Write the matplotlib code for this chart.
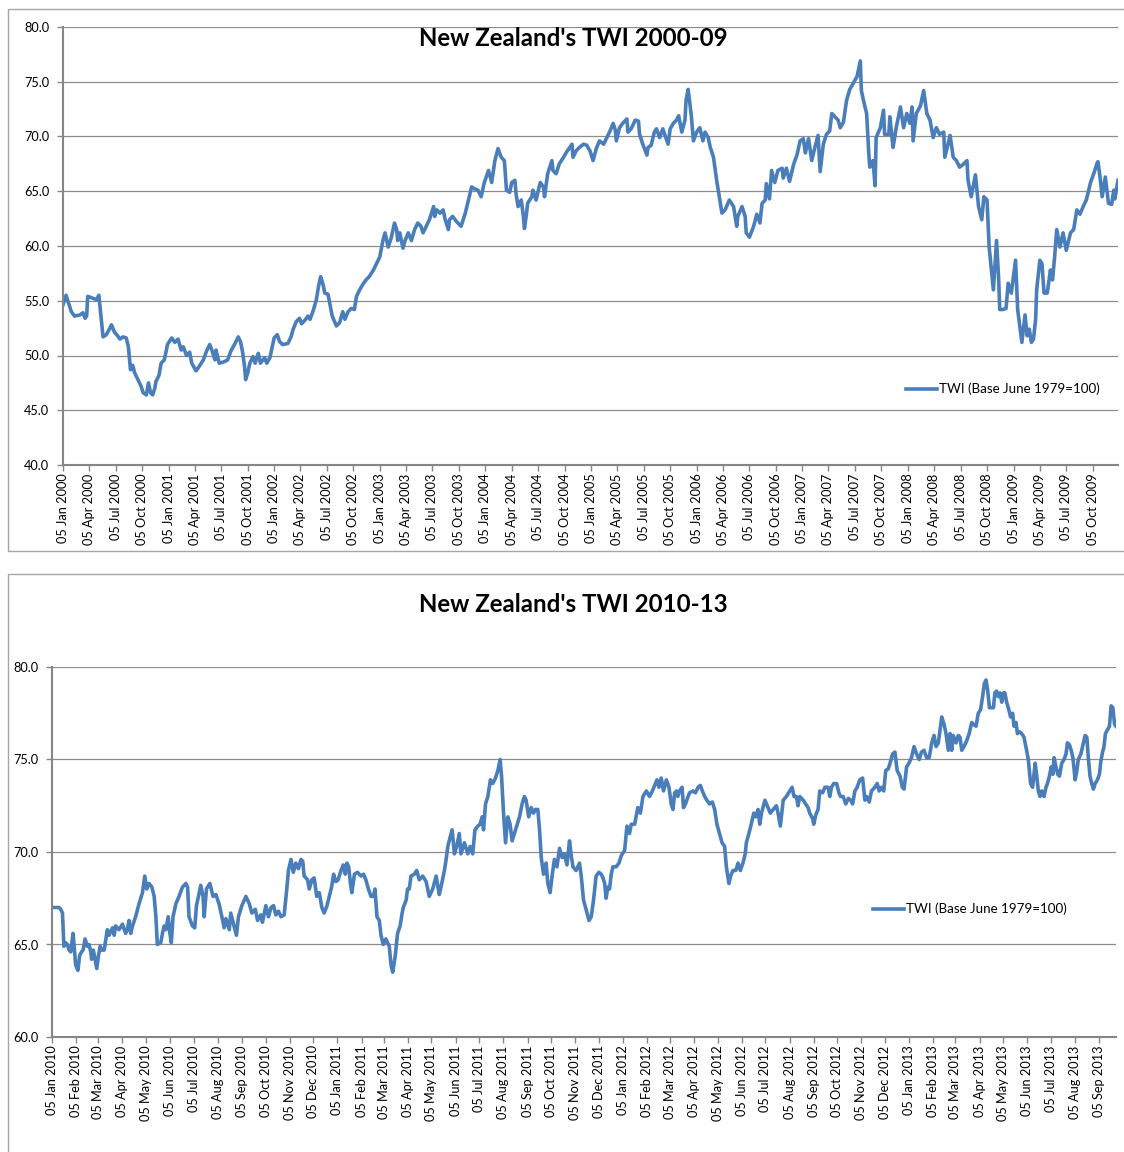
import matplotlib

matplotlib.use("Agg")
import matplotlib.pyplot as plt
import matplotlib.dates as mdates
import pandas as pd
from matplotlib.patches import Rectangle

# ---- data (decimal year, TWI) ----
TWI_0009_YEARS = [
    2000.01, 2000.04, 2000.09, 2000.12, 2000.17, 2000.20, 2000.22, 2000.235, 2000.245, 2000.33,
    2000.35, 2000.36, 2000.39, 2000.42, 2000.45, 2000.47, 2000.50, 2000.52, 2000.55, 2000.58,
    2000.61, 2000.63, 2000.65, 2000.67, 2000.69, 2000.72, 2000.75, 2000.77, 2000.80, 2000.82,
    2000.84, 2000.86, 2000.88, 2000.89, 2000.92, 2000.94, 2000.97, 2000.99, 2001.00, 2001.04,
    2001.07, 2001.10, 2001.13, 2001.15, 2001.18, 2001.21, 2001.23, 2001.27, 2001.30, 2001.34,
    2001.37, 2001.40, 2001.42, 2001.45, 2001.46, 2001.49, 2001.53, 2001.57, 2001.60, 2001.64,
    2001.67, 2001.69, 2001.71, 2001.73, 2001.74, 2001.76, 2001.78, 2001.81, 2001.83, 2001.86,
    2001.88, 2001.92, 2001.94, 2001.97, 2001.99, 2002.01, 2002.04, 2002.06, 2002.09, 2002.14,
    2002.17, 2002.19, 2002.22, 2002.25, 2002.27, 2002.30, 2002.33, 2002.35, 2002.38, 2002.41,
    2002.43, 2002.45, 2002.47, 2002.49, 2002.52, 2002.54, 2002.56, 2002.60, 2002.63, 2002.66,
    2002.68, 2002.71, 2002.74, 2002.77, 2002.79, 2002.82, 2002.85, 2002.88, 2002.91, 2002.95,
    2002.98,
    2003.01, 2003.04, 2003.06, 2003.09, 2003.12, 2003.15, 2003.17, 2003.18, 2003.20, 2003.23,
    2003.25, 2003.28, 2003.31, 2003.34, 2003.37, 2003.40, 2003.42, 2003.45, 2003.48, 2003.52,
    2003.53, 2003.55, 2003.58, 2003.61, 2003.63, 2003.66, 2003.67, 2003.70, 2003.74, 2003.78,
    2003.82, 2003.85, 2003.88, 2003.91, 2003.94, 2003.97, 2004.00, 2004.04, 2004.07, 2004.10,
    2004.13, 2004.16, 2004.19, 2004.21, 2004.24, 2004.26, 2004.29, 2004.30, 2004.32, 2004.35,
    2004.37, 2004.38, 2004.40, 2004.41, 2004.45, 2004.46, 2004.49, 2004.53, 2004.56, 2004.57,
    2004.60, 2004.64, 2004.65, 2004.68, 2004.71, 2004.75, 2004.78, 2004.81, 2004.83, 2004.84,
    2004.87, 2004.90, 2004.94, 2004.97, 2005.00, 2005.03, 2005.06, 2005.09, 2005.13, 2005.16,
    2005.19, 2005.22, 2005.24, 2005.25, 2005.28, 2005.31, 2005.35, 2005.36, 2005.39, 2005.43,
    2005.46, 2005.47, 2005.50, 2005.54, 2005.55, 2005.58, 2005.61, 2005.63, 2005.66, 2005.69,
    2005.73, 2005.74, 2005.76, 2005.79, 2005.82, 2005.84, 2005.87, 2005.90, 2005.91, 2005.93,
    2005.95, 2005.96, 2005.98, 2006.01, 2006.04, 2006.07, 2006.09, 2006.12, 2006.14, 2006.17,
    2006.20, 2006.23, 2006.25, 2006.28, 2006.32, 2006.36, 2006.39, 2006.40, 2006.44, 2006.47,
    2006.48, 2006.51, 2006.55, 2006.58,
    2006.61, 2006.63, 2006.66, 2006.67, 2006.70, 2006.72, 2006.75, 2006.78, 2006.82, 2006.83,
    2006.86, 2006.89, 2006.93, 2006.96, 2006.99, 2007.02, 2007.04, 2007.07, 2007.10, 2007.13,
    2007.16, 2007.18, 2007.21, 2007.24, 2007.27, 2007.29, 2007.32, 2007.35, 2007.37, 2007.40,
    2007.43, 2007.46, 2007.49, 2007.53, 2007.56, 2007.57, 2007.59, 2007.62, 2007.64, 2007.65,
    2007.68, 2007.70, 2007.71, 2007.75, 2007.78, 2007.79, 2007.83, 2007.84, 2007.87, 2007.90,
    2007.94, 2007.97, 2008.00, 2008.03, 2008.05, 2008.06, 2008.09, 2008.13, 2008.16, 2008.19,
    2008.22, 2008.25, 2008.28, 2008.31, 2008.35, 2008.36, 2008.41, 2008.44, 2008.47, 2008.50,
    2008.54, 2008.57, 2008.58, 2008.61, 2008.65, 2008.68, 2008.71, 2008.73, 2008.76, 2008.78,
    2008.82, 2008.84, 2008.85, 2008.87, 2008.88, 2008.91, 2008.94, 2008.96, 2008.99, 2009.03,
    2009.05, 2009.07, 2009.09, 2009.12, 2009.14, 2009.16, 2009.18, 2009.20, 2009.22, 2009.23,
    2009.26, 2009.28, 2009.30, 2009.33, 2009.36, 2009.38, 2009.40, 2009.42, 2009.45, 2009.48,
    2009.51, 2009.55, 2009.58, 2009.61, 2009.64, 2009.67, 2009.70, 2009.74, 2009.77, 2009.80,
    2009.81, 2009.83, 2009.85, 2009.88, 2009.91, 2009.94, 2009.96, 2009.97, 2010.00,
]
TWI_0009_VALUES = [
    54.6, 55.5, 54.0, 53.6, 53.7, 53.9, 53.4, 53.6, 55.4, 55.1,
    55.5, 54.6, 51.7, 51.9, 52.4, 52.8, 52.1, 51.9, 51.5, 51.7,
    51.6, 50.8, 48.7, 49.1, 48.4, 47.8, 47.2, 46.6, 46.4, 47.5,
    46.6, 46.4, 47.0, 47.6, 48.2, 49.3, 49.6, 50.5, 51.0, 51.6,
    51.2, 51.5, 50.5, 50.8, 50.0, 50.3, 49.3, 48.6, 49.0, 49.6,
    50.4, 51.0, 50.5, 49.6, 50.5, 49.3, 49.4, 49.6, 50.4, 51.1,
    51.7, 51.3, 50.4, 49.0, 47.8, 48.4, 49.3, 49.9, 49.3, 50.2,
    49.3, 49.8, 49.3, 49.8, 50.7, 51.6, 51.9, 51.3, 51.0, 51.1,
    51.7, 52.4, 53.1, 53.4, 52.9, 53.2, 53.6, 53.3, 54.1, 55.1,
    56.3, 57.2, 56.6, 55.7, 55.6, 54.6, 53.6, 52.7, 53.0, 54.0,
    53.3, 54.0, 54.3, 54.2, 55.4, 56.0, 56.5, 56.9, 57.2, 57.8,
    58.4,
    59.0, 60.5, 61.2, 59.9, 60.8, 62.1, 61.5, 60.5, 61.2, 59.8,
    60.5, 61.2, 60.5, 61.5, 62.1, 61.8, 61.2, 61.8, 62.4, 63.6,
    62.7, 63.3, 63.0, 63.3, 62.4, 61.5, 62.4, 62.7, 62.2, 61.8,
    63.0, 64.2, 65.4, 65.2, 65.1, 64.5, 65.8, 66.9, 65.8, 67.8,
    68.9, 68.1, 67.8, 65.1, 64.9, 65.8, 66.0, 64.8, 63.6, 64.2,
    62.7, 61.6, 63.0, 63.9, 64.5, 65.1, 64.2, 65.8, 65.4, 64.5,
    66.6, 67.8, 66.9, 66.6, 67.5, 68.1, 68.6, 69.0, 69.3, 68.1,
    68.7, 69.0, 69.3, 69.2, 68.7, 67.8, 68.9, 69.6, 69.3, 69.9,
    70.5, 71.2, 70.6, 69.6, 70.8, 71.2, 71.6, 70.4, 70.7, 71.5,
    71.4, 70.2, 69.3, 68.3, 69.0, 69.2, 70.4, 70.7, 69.9, 70.7,
    69.6, 69.3, 70.7, 71.2, 71.5, 71.9, 70.4, 71.5, 73.3, 74.3,
    72.7, 71.9, 69.6, 70.4, 70.8, 69.6, 70.4, 69.9, 69.0, 68.1,
    66.0, 64.2, 63.0, 63.3, 64.2, 63.6, 61.8, 62.7, 63.6, 62.7,
    61.2, 60.8, 61.8, 62.9,
    62.1, 63.9, 64.2, 65.7, 64.3, 66.9, 65.8, 66.9, 67.1, 66.2,
    67.1, 65.9, 67.5, 68.3, 69.6, 69.8, 68.5, 69.8, 67.8, 69.0,
    70.1, 66.8, 69.3, 70.2, 70.5, 72.1, 71.8, 71.5, 70.8, 71.3,
    73.3, 74.3, 74.8, 75.5, 76.9, 74.2, 73.3, 72.1, 68.5, 67.2,
    67.8, 65.5, 69.9, 70.8, 72.4, 70.2, 70.2, 71.8, 69.0, 70.8,
    72.7, 70.8, 72.1, 71.2, 72.7, 69.6, 72.1, 72.8, 74.2, 72.1,
    71.5, 69.9, 70.8, 70.2, 70.4, 68.1, 70.1, 68.1, 67.8, 67.2,
    67.5, 67.8, 66.0, 64.5, 66.5, 63.6, 62.4, 64.5, 64.2, 59.9,
    56.0, 59.0, 60.5, 57.0, 54.2, 54.2, 54.3, 56.6, 55.7, 58.7,
    54.2, 52.7, 51.2, 53.7, 51.8, 52.4, 51.2, 51.5, 53.3, 56.0,
    58.7, 58.4, 55.7, 55.7, 57.8, 56.9, 59.0, 61.5, 59.9, 61.2,
    59.6, 61.2, 61.5, 63.3, 62.9, 63.6, 64.2, 65.8, 66.6, 67.5,
    67.7, 66.3, 64.5, 66.3, 63.9, 63.8, 65.1, 64.3, 66.0,
]

TWI_1013_YEARS = [
    2010.010, 2010.025, 2010.037, 2010.043, 2010.049, 2010.054, 2010.060, 2010.066, 2010.072, 2010.078,
    2010.086, 2010.091, 2010.095, 2010.103, 2010.109, 2010.116, 2010.121, 2010.128, 2010.136, 2010.142,
    2010.148, 2010.151, 2010.157, 2010.163, 2010.169, 2010.175, 2010.181, 2010.186, 2010.195, 2010.200,
    2010.206, 2010.212, 2010.224, 2010.230, 2010.235, 2010.247, 2010.259, 2010.270, 2010.276, 2010.282,
    2010.288, 2010.294, 2010.305, 2010.317, 2010.329, 2010.337, 2010.344, 2010.352, 2010.362, 2010.370,
    2010.376, 2010.381, 2010.393, 2010.399, 2010.405, 2010.411, 2010.419, 2010.425, 2010.430, 2010.436,
    2010.446, 2010.457, 2010.469, 2010.481, 2010.487, 2010.492, 2010.504, 2010.512, 2010.518, 2010.525,
    2010.533, 2010.541, 2010.545, 2010.553, 2010.565, 2010.576, 2010.586, 2010.597, 2010.607, 2010.615,
    2010.621, 2010.633, 2010.638, 2010.658, 2010.665, 2010.677, 2010.691, 2010.703, 2010.712, 2010.724,
    2010.732, 2010.743, 2010.749, 2010.761, 2010.770, 2010.779, 2010.788, 2010.796, 2010.805, 2010.814,
    2010.825, 2010.833, 2010.840, 2010.849, 2010.857, 2010.866, 2010.875, 2010.884, 2010.890, 2010.895,
    2010.907, 2010.913, 2010.922, 2010.930, 2010.939, 2010.948, 2010.957, 2010.965, 2010.975, 2010.983,
    2010.991, 2010.998, 2011.006, 2011.014, 2011.024, 2011.032, 2011.039, 2011.045, 2011.051, 2011.057,
    2011.062, 2011.071, 2011.082, 2011.094, 2011.103, 2011.111, 2011.120, 2011.129, 2011.137, 2011.143,
    2011.150, 2011.158, 2011.164, 2011.172, 2011.181, 2011.187, 2011.193, 2011.199, 2011.205, 2011.214,
    2011.222, 2011.231, 2011.238, 2011.242, 2011.252, 2011.257, 2011.263, 2011.269, 2011.281, 2011.289,
    2011.298, 2011.310, 2011.322, 2011.333, 2011.345, 2011.357, 2011.368, 2011.374, 2011.386, 2011.392,
    2011.398, 2011.406, 2011.413, 2011.421, 2011.429, 2011.438, 2011.444, 2011.456, 2011.468, 2011.476,
    2011.485, 2011.493, 2011.503, 2011.511, 2011.518, 2011.523, 2011.530, 2011.538, 2011.547, 2011.555,
    2011.565, 2011.573, 2011.581, 2011.586, 2011.593, 2011.600, 2011.608, 2011.616, 2011.623, 2011.631,
    2011.639, 2011.649, 2011.658, 2011.666, 2011.672, 2011.681, 2011.690, 2011.698, 2011.705, 2011.713,
    2011.719, 2011.725, 2011.733, 2011.742, 2011.748, 2011.756, 2011.763, 2011.771, 2011.780, 2011.789,
    2011.798, 2011.806, 2011.815, 2011.824, 2011.830, 2011.836, 2011.847, 2011.859, 2011.865, 2011.873,
    2011.882, 2011.892, 2011.900, 2011.908, 2011.917, 2011.927, 2011.935, 2011.941, 2011.947, 2011.952,
    2011.958, 2011.964, 2011.970, 2011.976, 2011.987, 2011.997, 2012.005, 2012.017, 2012.025, 2012.034,
    2012.040, 2012.052, 2012.063, 2012.072, 2012.081, 2012.093, 2012.104, 2012.114, 2012.122, 2012.130,
    2012.137, 2012.145, 2012.153, 2012.163, 2012.172, 2012.180, 2012.186, 2012.192, 2012.198, 2012.203,
    2012.209, 2012.218, 2012.223, 2012.230, 2012.239, 2012.244, 2012.256, 2012.265, 2012.274, 2012.282,
    2012.289, 2012.297, 2012.305, 2012.314, 2012.324, 2012.332, 2012.340, 2012.349, 2012.358, 2012.367,
    2012.373, 2012.382, 2012.388, 2012.396, 2012.406, 2012.414, 2012.422, 2012.431, 2012.439, 2012.443,
    2012.452, 2012.460, 2012.469, 2012.476, 2012.484,
    2012.490, 2012.496, 2012.508, 2012.519, 2012.527, 2012.537, 2012.548, 2012.554, 2012.562, 2012.572,
    2012.583, 2012.595, 2012.603, 2012.610, 2012.618, 2012.624, 2012.630, 2012.642, 2012.659, 2012.665,
    2012.675, 2012.679, 2012.686, 2012.694, 2012.700, 2012.710, 2012.718, 2012.729, 2012.735, 2012.741,
    2012.749, 2012.759, 2012.767, 2012.773, 2012.782, 2012.791, 2012.800, 2012.808, 2012.815, 2012.823,
    2012.831, 2012.840, 2012.850, 2012.858, 2012.864, 2012.873, 2012.881, 2012.893, 2012.901, 2012.908,
    2012.916, 2012.924, 2012.931, 2012.940, 2012.946, 2012.955, 2012.963, 2012.971, 2012.981, 2012.989,
    2012.995, 2013.004, 2013.012, 2013.021, 2013.030, 2013.039, 2013.048, 2013.056, 2013.065, 2013.074,
    2013.083, 2013.092, 2013.100, 2013.107, 2013.115, 2013.127, 2013.135, 2013.142, 2013.150, 2013.156,
    2013.162, 2013.167, 2013.177, 2013.185, 2013.191, 2013.197, 2013.205, 2013.214, 2013.223, 2013.232,
    2013.238, 2013.247, 2013.255, 2013.263, 2013.270, 2013.276, 2013.282, 2013.288, 2013.294, 2013.302,
    2013.308, 2013.313, 2013.319, 2013.325, 2013.331, 2013.337, 2013.343, 2013.348, 2013.354, 2013.360,
    2013.368, 2013.375, 2013.380, 2013.387, 2013.392, 2013.399, 2013.407, 2013.415, 2013.424, 2013.430,
    2013.438, 2013.445, 2013.454, 2013.459, 2013.465, 2013.471, 2013.477, 2013.485, 2013.492, 2013.497,
    2013.504, 2013.510, 2013.516, 2013.520, 2013.527, 2013.533, 2013.539, 2013.547, 2013.555, 2013.562,
    2013.567, 2013.574, 2013.580, 2013.586, 2013.594, 2013.600, 2013.605, 2013.614, 2013.623, 2013.629,
    2013.635, 2013.640, 2013.646, 2013.652, 2013.658, 2013.664, 2013.672, 2013.679, 2013.684, 2013.690,
    2013.695, 2013.700, 2013.707, 2013.714, 2013.720, 2013.726, 2013.732, 2013.737,
]
TWI_1013_VALUES = [
    67.0, 67.0, 67.0, 66.9, 66.7, 64.9, 65.1, 65.0, 64.7, 64.6,
    65.6, 64.7, 63.9, 63.6, 64.4, 64.6, 64.7, 65.3, 64.9, 65.0,
    64.6, 64.2, 64.7, 64.2, 63.7, 64.4, 64.9, 64.7, 64.7, 65.2,
    65.8, 65.5, 65.9, 65.5, 66.0, 65.8, 66.1, 65.6, 65.8, 66.3,
    65.6, 66.0, 66.5, 67.2, 67.8, 68.7, 68.0, 68.3, 68.1, 67.6,
    66.5, 65.0, 65.1, 65.6, 66.0, 65.8, 66.5, 65.6, 65.1, 66.5,
    67.2, 67.6, 68.1, 68.3, 68.1, 66.5, 66.0, 65.9, 67.1, 67.6,
    68.2, 67.6, 66.5, 68.0, 68.3, 67.6, 67.7, 67.2, 66.5, 65.9,
    66.4, 65.8, 66.7, 65.5, 66.5, 67.1, 67.6, 67.2, 66.7, 66.9,
    66.3, 66.6, 66.2, 67.1, 66.5, 67.0, 67.1, 66.6, 66.8, 66.5,
    66.6, 67.8, 69.0, 69.6, 68.9, 69.4, 69.1, 69.6, 69.5, 68.7,
    68.5, 68.0, 68.5, 68.6, 67.6, 67.8, 67.0, 66.7, 67.1, 67.6,
    68.1, 68.8, 68.4, 68.5, 69.0, 69.3, 68.8, 69.4, 69.2, 68.3,
    67.8, 68.8, 68.9, 68.7, 68.8, 68.5, 68.0, 67.6, 67.6, 68.0,
    66.5, 66.3, 65.5, 65.0, 65.3, 65.1, 64.9, 63.9, 63.5, 64.4,
    65.6, 66.0, 66.7, 67.0, 67.4, 68.0, 68.0, 68.7, 68.8, 69.0,
    68.5, 68.7, 68.4, 67.6, 68.0, 68.7, 67.7, 68.1, 69.0, 69.6,
    70.3, 70.8, 71.2, 69.9, 70.3, 71.0, 69.9, 70.5, 69.9, 70.3,
    69.9, 71.2, 71.4, 71.5, 71.9, 71.2, 72.6, 73.0, 73.9, 73.7,
    74.0, 74.4, 75.0, 74.1, 72.1, 70.5, 71.9, 71.5, 70.6, 71.0,
    71.4, 71.9, 72.6, 73.0, 72.8, 71.9, 72.4, 72.1, 72.3, 72.3,
    71.2, 69.7, 68.8, 69.4, 68.3, 67.8, 68.7, 69.6, 69.2, 70.2,
    69.7, 69.9, 69.3, 70.6, 69.8, 69.2, 69.0, 69.4, 68.7, 67.4,
    66.9, 66.3, 66.5, 67.4, 68.7, 68.9, 68.8, 68.6, 68.3, 67.5,
    68.1, 68.0, 68.8, 69.2, 69.2, 69.4, 69.8, 70.1, 71.4, 71.0,
    71.5, 71.5, 72.4, 72.1, 73.0, 73.3, 73.0, 73.3, 73.6, 73.9,
    73.5, 74.0, 73.3, 73.9, 73.5, 72.6, 72.3, 73.2, 73.3, 73.0,
    73.3, 73.5, 72.4, 72.6, 73.0, 73.2, 73.3, 73.2, 73.5, 73.6,
    73.3, 73.0, 72.8, 72.6, 72.7, 72.3, 71.5, 71.0, 70.5, 70.3,
    69.2, 68.3, 68.7, 69.0, 69.0, 69.4, 69.0, 69.4, 69.9, 70.5,
    71.0, 71.5, 72.1, 71.9, 72.3,
    71.5, 72.1, 72.8, 72.4, 72.1, 72.3, 72.5, 72.1, 71.4, 72.8,
    73.0, 73.3, 73.5, 73.0, 73.0, 72.5, 73.0, 72.8, 72.4, 72.1,
    71.8, 71.5, 72.0, 72.3, 73.3, 73.2, 73.5, 73.5, 73.0, 73.5,
    73.7, 73.7, 73.2, 73.0, 73.0, 72.6, 72.9, 72.8, 72.6, 73.3,
    73.5, 73.9, 74.0, 72.8, 73.0, 72.7, 73.3, 73.5, 73.7, 73.3,
    73.5, 73.3, 74.4, 74.5, 74.8, 75.3, 75.4, 74.4, 74.1, 73.5,
    73.4, 74.6, 74.8, 75.1, 75.7, 75.3, 75.0, 75.4, 75.5, 75.1,
    75.1, 75.9, 76.3, 75.7, 75.9, 77.3, 76.9, 76.4, 75.5, 76.4,
    75.5, 76.3, 75.9, 76.3, 76.2, 75.5, 75.7, 76.0, 76.4, 77.0,
    76.9, 76.8, 77.5, 77.7, 78.4, 79.1, 79.3, 78.7, 77.8, 77.8,
    77.8, 78.6, 78.7, 78.4, 78.6, 78.1, 78.6, 78.6, 78.1, 77.8,
    77.3, 77.5, 76.8, 77.0, 76.4, 76.5, 76.4, 76.2, 75.5, 75.0,
    73.7, 73.5, 74.8, 74.2, 73.3, 73.0, 73.3, 73.0, 73.5, 73.7,
    74.1, 74.6, 74.2, 75.1, 74.6, 74.2, 74.1, 74.8, 75.0, 75.3,
    75.9, 75.8, 75.5, 75.1, 73.9, 74.4, 75.0, 75.3, 75.9, 76.3,
    76.2, 75.1, 74.1, 73.7, 73.4, 73.7, 73.9, 74.2, 74.9, 75.4,
    75.7, 76.4, 76.6, 76.8, 77.9, 77.8, 76.9, 76.8,
]

TITLE_TOP = "New Zealand's TWI 2000-09"
TITLE_BOTTOM = "New Zealand's TWI 2010-13"
SERIES_LABEL = "TWI (Base June 1979=100)"

LINE_BLUE = "#4a7ebb"
GRID_GREY = "#8c8c8c"
AXIS_GREY = "#868686"
FRAME_GREY = "#a6a6a6"

plt.rcParams["font.family"] = ["Lato", "DejaVu Sans"]

W, H = 1124, 1152


def to_dates(years):
    start = pd.Timestamp("2000-01-01")
    return [start + pd.Timedelta(days=(y - 2000) * 365.25) for y in years]


def px_axes(fig, left, top, right, bottom):
    return fig.add_axes([left / W, (H - bottom) / H, (right - left) / W, (bottom - top) / H])


def style_axes(ax, yticks, xticks):
    for side in ("top", "right"):
        ax.spines[side].set_visible(False)
    for side in ("left", "bottom"):
        ax.spines[side].set_color(AXIS_GREY)
        ax.spines[side].set_linewidth(1.5)
    ax.set_yticks(yticks)
    ax.set_yticklabels([f"{v:.1f}" for v in yticks], fontsize=9.2)
    ax.set_ylim(yticks[0], yticks[-1])
    ax.yaxis.grid(True, color=GRID_GREY, linewidth=0.9)
    ax.set_axisbelow(True)
    ax.set_xticks(xticks)
    ax.xaxis.set_major_formatter(mdates.DateFormatter("%d %b %Y"))
    ax.tick_params(axis="x", labelrotation=90, labelsize=9.2, length=4, width=1,
                   color=AXIS_GREY, pad=2)
    ax.tick_params(axis="y", length=4, width=1, color=AXIS_GREY, pad=6)


fig = plt.figure(figsize=(W / 100, H / 100), dpi=100)

# chart frames (the right / bottom edges run off the picture)
fig.patches.append(Rectangle((8 / W, (H - 551) / H), 1.05, 542 / H, transform=fig.transFigure,
                             fill=False, edgecolor=FRAME_GREY, linewidth=1))
fig.patches.append(Rectangle((8 / W, -0.05), 1.05, (H - 574) / H + 0.05, transform=fig.transFigure,
                             fill=False, edgecolor=FRAME_GREY, linewidth=1))

# ---- top chart ----
ax1 = px_axes(fig, 63, 27, 1118, 465)
d1 = to_dates(TWI_0009_YEARS)
ax1.plot(d1, TWI_0009_VALUES, color=LINE_BLUE, linewidth=2.6, label=SERIES_LABEL)
style_axes(ax1, [40, 45, 50, 55, 60, 65, 70, 75, 80],
           pd.date_range("2000-01-01", "2009-10-01", freq="3MS") + pd.Timedelta(days=4))
ax1.set_xlim(pd.Timestamp("2000-01-05"), d1[-1])
fig.text(573 / W, 1 - 39 / H, TITLE_TOP, ha="center", va="center", fontsize=17.3, fontweight="bold")
ax1.legend(loc="center left", bbox_to_anchor=(906 / W, 1 - 389 / H), bbox_transform=fig.transFigure,
           frameon=False, fontsize=9.6, handlelength=2.3, handletextpad=0.15, borderpad=0,
           borderaxespad=0)

# ---- bottom chart ----
ax2 = px_axes(fig, 52, 667, 1116, 1037)
d2 = to_dates(TWI_1013_YEARS)
ax2.plot(d2, TWI_1013_VALUES, color=LINE_BLUE, linewidth=2.6, label=SERIES_LABEL)
style_axes(ax2, [60, 65, 70, 75, 80],
           pd.date_range("2010-01-01", "2013-09-01", freq="MS") + pd.Timedelta(days=4))
ax2.set_xlim(pd.Timestamp("2010-01-05"), d2[-1])
fig.text(573 / W, 1 - 604 / H, TITLE_BOTTOM, ha="center", va="center", fontsize=17.3, fontweight="bold")
ax2.legend(loc="center left", bbox_to_anchor=(873 / W, 1 - 909 / H), bbox_transform=fig.transFigure,
           frameon=False, fontsize=9.6, handlelength=2.3, handletextpad=0.15, borderpad=0,
           borderaxespad=0)

fig.savefig("out.png", dpi=100)
